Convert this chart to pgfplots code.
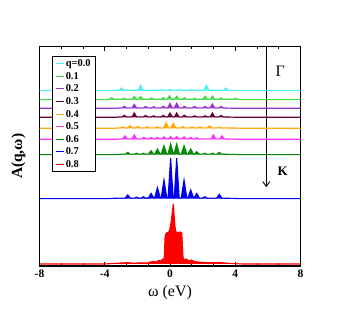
\documentclass[border=0pt]{standalone}
\usepackage{fontspec}
\setmainfont{Liberation Serif}
\usepackage{pgfplots}
\pgfplotsset{compat=1.18}
\usetikzlibrary{arrows.meta}
\definecolor{cC}{HTML}{4DF2F2}
\definecolor{cLG}{HTML}{3EDC3E}
\definecolor{cP}{HTML}{9933CC}
\definecolor{cM}{HTML}{66003A}
\definecolor{cO}{HTML}{FFAA10}
\definecolor{cMg}{HTML}{FF33FF}
\definecolor{cDG}{HTML}{0A8A0A}
\definecolor{cB}{HTML}{0000F0}
\definecolor{cR}{HTML}{FF0000}
\begin{document}
\begin{tikzpicture}
\useasboundingbox (0,0) rectangle (338bp,314bp);
\begin{axis}[
  at={(39.5bp,48bp)}, anchor=south west,
  scale only axis, width=261bp, height=219.3bp,
  xmin=-8, xmax=8, ymin=0, ymax=219.3,
  xtick={-8,-4,0,4,8}, minor x tick num=2,
  ytick=\empty,
  tick align=inside, xtick pos=both,
  major tick length=4bp, minor tick length=2.5bp,
  every tick/.style={black, line width=0.9bp},
  axis line style={line width=1.3bp},
  /pgf/number format/assume math mode=true,
  ticklabel style={font=\bfseries\fontsize{11.5}{12}\selectfont},
  xlabel={ω (eV)},
  xlabel style={font=\fontsize{16}{17}\selectfont, at={(axis description cs:0.5,0)}, anchor=center, yshift=-27bp},
  ylabel={A(q,ω)},
  ylabel style={font=\bfseries\fontsize{15.5}{17}\selectfont, at={(axis description cs:0,0.5)}, anchor=center, yshift=21bp},
  legend style={at={(rel axis cs:0.047,0.958)}, anchor=north west, draw=black, line width=1bp,
    font=\bfseries\fontsize{10.5}{12}\selectfont, row sep=1.6pt,
    nodes={inner sep=1.5pt, text height=7pt, text depth=1pt}},
  legend cell align=left,
  legend image code/.code={\draw[#1,fill=none,line width=1bp] (0bp,0bp) -- (8bp,0bp);},
  every axis plot/.append style={line width=1.1bp},
  table/row sep=\\,
]
\draw[line width=0.9bp, -{Straight Barb[length=5bp,width=7bp]}] (axis cs:5.9,219.3) -- (axis cs:5.9,78.7);
\node[font=\fontsize{16}{18}\selectfont] at (axis cs:6.75,194.3) {Γ};
\node[font=\bfseries\fontsize{13}{15}\selectfont] at (axis cs:6.91,94.3) {K};

% q=0.0
\addplot[draw=cC, fill=cC] table[y expr=\thisrow{h}+175.3] {
x h\\
-8 0\\ -3.7 0\\ -3.5 0.4\\ -3.10 0.4\\ -2.96 2.7\\ -2.82 0.4\\ -1.94 0.4\\ -1.80 5.7\\ -1.66 0.4\\
-0.71 0.4\\ -0.57 1.2\\ -0.43 0.4\\ -0.14 0.4\\ 0 1.2\\ 0.14 0.4\\ 0.47 0.4\\ 0.61 1.2\\ 0.75 0.4\\
1.19 0.4\\ 1.33 1.2\\ 1.47 0.4\\ 2.09 0.4\\ 2.23 5.7\\ 2.37 0.4\\ 3.28 0.4\\ 3.42 2.7\\ 3.56 0.4\\
4.0 0.3\\ 4.3 0\\ 8 0\\
};
% 0.1
\addplot[draw=cLG, fill=cLG] table[y expr=\thisrow{h}+166.3] {
x h\\
-8 0\\ -3.9 0\\ -3.8 0.4\\ -3.71 0.4\\ -3.57 2\\ -3.43 0.4\\ -2.94 0.4\\ -2.80 1.5\\ -2.66 0.4\\
-2.33 0.4\\ -2.19 3.3\\ -2.05 0.4\\ -1.94 0.4\\ -1.80 3.3\\ -1.66 0.4\\ -1.26 0.4\\ -1.12 1.8\\ -0.98 0.4\\
-0.55 0.4\\ -0.41 2\\ -0.27 0.4\\ -0.17 0.4\\ -0.03 4\\ 0.11 0.4\\ 0.27 0.4\\ 0.41 3.5\\ 0.55 0.4\\
0.74 0.4\\ 0.88 2\\ 1.02 0.4\\ 1.36 0.4\\ 1.50 1.5\\ 1.64 0.4\\ 2.01 0.4\\ 2.15 3.5\\ 2.29 0.4\\
2.46 0.4\\ 2.60 3.5\\ 2.74 0.4\\ 2.99 0.4\\ 3.13 1.8\\ 3.27 0.4\\ 3.86 0.4\\ 4.00 1.5\\ 4.14 0.4\\
4.3 0\\ 8 0\\
};
% 0.2
\addplot[draw=cP, fill=cP] table[y expr=\thisrow{h}+157.7] {
x h\\
-8 0\\ -3.3 0\\ -3.1 0.4\\ -2.94 0.4\\ -2.8 2\\ -2.66 0.4\\ -2.33 0.4\\ -2.19 4\\ -2.05 0.4\\
-1.64 0.4\\ -1.5 1.8\\ -1.36 0.4\\ -1.14 0.4\\ -1.0 1.5\\ -0.86 0.4\\ -0.55 0.4\\ -0.41 2\\ -0.27 0.4\\
-0.14 0.4\\ 0 5\\ 0.14 0.4\\ 0.27 0.4\\ 0.41 5\\ 0.55 0.4\\ 0.74 0.4\\ 0.88 2\\ 1.02 0.4\\
1.36 0.4\\ 1.5 1.8\\ 1.64 0.4\\ 2.01 0.4\\ 2.15 1.8\\ 2.29 0.4\\ 2.46 0.4\\ 2.6 4.3\\ 2.74 0.4\\
2.99 0.4\\ 3.13 1.8\\ 3.27 0.4\\ 3.6 0.2\\ 3.9 0\\ 8 0\\
};
% 0.3
\addplot[draw=cM, fill=cM] table[y expr=\thisrow{h}+148.7] {
x h\\
-8 0\\ -3.3 0\\ -3.1 0.4\\ -2.94 0.4\\ -2.8 2\\ -2.66 0.4\\ -2.33 0.4\\ -2.19 4.3\\ -2.05 0.4\\
-1.64 0.4\\ -1.5 1.8\\ -1.36 0.4\\ -1.14 0.4\\ -1.0 1.5\\ -0.86 0.4\\ -0.55 0.4\\ -0.41 2\\ -0.27 0.4\\
-0.14 0.4\\ 0 4.3\\ 0.14 0.4\\ 0.27 0.4\\ 0.41 4.3\\ 0.55 0.4\\ 0.74 0.4\\ 0.88 2\\ 1.02 0.4\\
1.36 0.4\\ 1.5 1.5\\ 1.64 0.4\\ 2.01 0.4\\ 2.15 1.5\\ 2.29 0.4\\ 2.46 0.4\\ 2.6 4.3\\ 2.74 0.4\\
2.99 0.4\\ 3.13 1.8\\ 3.27 0.4\\ 3.8 0.2\\ 4.1 0\\ 8 0\\
};
% 0.4
\addplot[draw=cO, fill=cO] table[y expr=\thisrow{h}+137.7] {
x h\\
-8 0\\ -3.4 0\\ -3.2 0.4\\ -3.04 0.4\\ -2.9 1.5\\ -2.76 0.4\\ -2.59 0.4\\ -2.45 2.7\\ -2.31 0.4\\
-2.12 0.4\\ -1.98 1.8\\ -1.84 0.4\\ -1.54 0.4\\ -1.4 1.5\\ -1.26 0.4\\ -0.91 0.4\\ -0.77 1.5\\ -0.63 0.4\\
-0.40 0.4\\ -0.24 5.7\\ -0.08 0.4\\ 0.04 0.4\\ 0.2 5\\ 0.36 0.4\\ 0.63 0.4\\ 0.77 1.8\\ 0.91 0.4\\
1.21 0.4\\ 1.35 1.5\\ 1.49 0.4\\ 1.71 0.4\\ 1.85 1.5\\ 1.99 0.4\\ 2.28 0.4\\ 2.42 2.5\\ 2.56 0.4\\
2.86 0.4\\ 3.0 1.2\\ 3.14 0.4\\ 4.0 0.3\\ 4.3 0\\ 8 0\\
};
% 0.5
\addplot[draw=cMg, fill=cMg] table[y expr=\thisrow{h}+126.7] {
x h\\
-8 0\\ -3.3 0\\ -3.1 0.4\\ -2.9 0.4\\ -2.76 3.5\\ -2.62 0.4\\ -2.33 0.4\\ -2.19 4.5\\ -2.05 0.4\\
-1.74 0.4\\ -1.6 2\\ -1.46 0.4\\ -1.3 0.4\\ -1.16 1.8\\ -1.02 0.4\\ -0.91 0.4\\ -0.77 2\\ -0.63 0.4\\
-0.51 0.4\\ -0.37 2.5\\ -0.23 0.4\\ -0.1 0.4\\ 0.04 2.8\\ 0.18 0.4\\ 0.27 0.4\\ 0.41 2.8\\ 0.55 0.4\\
0.72 0.4\\ 0.86 2.5\\ 1.0 0.4\\ 1.13 0.4\\ 1.27 2\\ 1.41 0.4\\ 1.5 0.4\\ 1.64 1.5\\ 1.78 0.4\\
2.52 0.4\\ 2.66 4.5\\ 2.8 0.4\\ 3.04 0.4\\ 3.18 3.5\\ 3.32 0.4\\ 3.8 0.2\\ 4.1 0\\ 8 0\\
};
% 0.6
\addplot[draw=cDG, fill=cDG] table[y expr=\thisrow{h}+111.3] {
x h\\
-8 0\\ -3.3 0\\ -3.0 0.5\\ -2.75 0.5\\ -2.59 2.3\\ -2.43 0.5\\ -2.18 0.5\\ -2.04 1.5\\ -1.9 0.5\\
-1.77 0.5\\ -1.63 1.5\\ -1.49 0.5\\ -1.32 0.5\\ -1.16 4\\ -1.0 0.5\\ -0.94 0.5\\ -0.77 5.7\\ -0.6 0.5\\
-0.54 0.5\\ -0.37 9\\ -0.2 0.5\\ -0.13 0.5\\ 0.04 10.7\\ 0.21 0.5\\ 0.24 0.5\\ 0.41 10.7\\ 0.58 0.5\\
0.69 0.5\\ 0.86 9\\ 1.03 0.5\\ 1.10 0.5\\ 1.27 5.7\\ 1.44 0.5\\ 1.48 0.5\\ 1.64 3\\ 1.8 0.5\\
1.99 0.5\\ 2.13 1.5\\ 2.27 0.5\\ 2.46 0.5\\ 2.6 1.5\\ 2.74 0.5\\ 2.86 0.5\\ 3.02 2.3\\ 3.18 0.5\\
4.0 0.3\\ 4.3 0\\ 8 0\\
};
% 0.7
\addplot[draw=cB, fill=cB] table[y expr=\thisrow{h}+67.3] {
x h\\
-8 0\\ -4 0\\ -3.3 0.5\\ -2.75 0.6\\ -2.59 3.7\\ -2.43 0.6\\ -2.18 0.6\\ -2.04 1.5\\ -1.9 0.6\\
-1.77 0.6\\ -1.63 2\\ -1.49 0.6\\ -1.32 0.8\\ -1.16 5.3\\ -1.0 0.8\\ -0.94 0.8\\ -0.77 11\\ -0.6 0.8\\
-0.54 0.8\\ -0.37 18.7\\ -0.2 0.8\\ -0.12 0.8\\ 0.04 40.5\\ 0.19 0.8\\ 0.26 0.8\\ 0.41 40.5\\ 0.56 0.8\\
0.69 0.8\\ 0.86 18.7\\ 1.03 0.8\\ 1.10 0.8\\ 1.27 8.7\\ 1.44 0.8\\ 1.48 0.8\\ 1.64 5.3\\ 1.8 0.6\\
1.99 0.6\\ 2.13 2\\ 2.27 0.6\\ 2.86 0.6\\ 3.02 4.3\\ 3.18 0.6\\ 3.6 0.4\\ 4.5 0\\ 8 0\\
};
% 0.8
\addplot[draw=cR, fill=cR] table {
x y\\
-8 2\\ -4 2\\ -3.5 2.5\\ -3 3\\ -2.6 3.3\\ -2.2 2.8\\ -1.8 3.2\\ -1.4 3\\ -1.2 4\\ -1.0 4.5\\
-0.85 4\\ -0.7 5.5\\ -0.55 5\\ -0.45 7\\ -0.36 6\\ -0.3 30\\ -0.22 33\\ -0.1 33.5\\ -0.02 36\\
0.08 45\\ 0.2 62\\ 0.3 40\\ 0.36 34\\ 0.5 33.5\\ 0.62 34\\ 0.72 33\\ 0.8 8\\ 0.9 6\\ 1.0 7\\
1.15 5\\ 1.3 6\\ 1.5 4.5\\ 1.7 4\\ 2.0 3.5\\ 2.5 3.2\\ 3.0 3.5\\ 3.5 2.8\\ 4 2.3\\ 4.5 2\\ 8 2\\
};
\legend{{q=0.0},0.1,0.2,0.3,0.4,0.5,0.6,0.7,0.8}
\end{axis}
\end{tikzpicture}
\end{document}
